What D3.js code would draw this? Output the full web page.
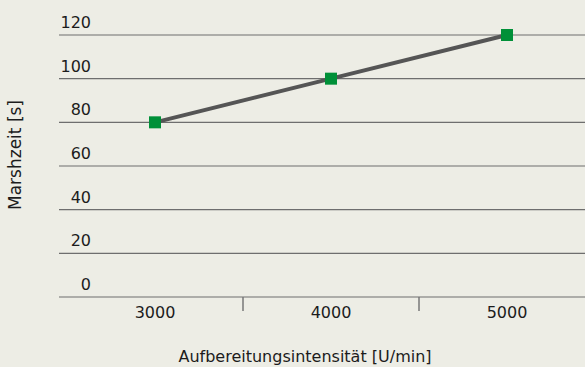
<!DOCTYPE html>
<html>
<head>
<meta charset="utf-8">
<script src="https://cdn.jsdelivr.net/npm/d3@7/dist/d3.min.js"></script>
<style>
  html, body { margin: 0; padding: 0; background: #ededE5; }
  svg { display: block; font-family: "DejaVu Sans", sans-serif; }
</style>
</head>
<body>
<svg id="chart" width="585" height="367"></svg>
<script>
// Processing intensity (rpm) and resulting marsh time (s)
const categories = ["3000", "4000", "5000"];
const marshTime = [80, 100, 120];
const yTicks = [0, 20, 40, 60, 80, 100, 120];
const xTitle = "Aufbereitungsintensität [U/min]";
const yTitle = "Marshzeit [s]";

const svg = d3.select("#chart");
const W = 585, H = 367;

svg.append("rect").attr("width", W).attr("height", H).attr("fill", "#ededE5");

const x = d3.scaleBand().domain(categories).range([67, 595]).paddingInner(0).paddingOuter(0);
const y = d3.scaleLinear().domain([0, 120]).range([297, 35]);

// Horizontal gridlines with labels sitting above them
const grid = svg.append("g");
grid.selectAll("line").data(yTicks).join("line")
  .attr("x1", 59).attr("x2", W)
  .attr("y1", d => y(d)).attr("y2", d => y(d))
  .attr("stroke", "#6e6e6e").attr("stroke-width", 1.2);

grid.selectAll("text").data(yTicks).join("text")
  .attr("x", 91).attr("y", d => y(d) - 7)
  .attr("text-anchor", "end")
  .attr("font-size", 16).attr("fill", "#1c1c1c")
  .text(d => d);

// Category axis: labels under band centres, ticks between bands
const xAxis = d3.axisBottom(x).tickSize(0).tickPadding(0);
const gx = svg.append("g").attr("transform", `translate(0,${y(0)})`).call(xAxis);
gx.select(".domain").remove();
gx.selectAll("text")
  .attr("y", 21).attr("dy", 0)
  .attr("font-size", 16).attr("fill", "#1c1c1c")
  .attr("font-family", "DejaVu Sans, sans-serif");

const boundaries = categories.slice(1).map(c => x(c));
svg.append("g").selectAll("line").data(boundaries).join("line")
  .attr("x1", d => d).attr("x2", d => d)
  .attr("y1", y(0)).attr("y2", y(0) + 14)
  .attr("stroke", "#777").attr("stroke-width", 1.5);

// Series line and square markers
const pts = categories.map((c, i) => [x(c) + x.bandwidth() / 2, y(marshTime[i])]);
svg.append("path")
  .attr("d", d3.line()(pts))
  .attr("fill", "none").attr("stroke", "#555").attr("stroke-width", 4);

const s = 12;
svg.append("g").selectAll("rect").data(pts).join("rect")
  .attr("x", d => d[0] - s / 2).attr("y", d => d[1] - s / 2)
  .attr("width", s).attr("height", s)
  .attr("fill", "#009038");

// Axis titles
svg.append("text")
  .attr("x", 305).attr("y", 362)
  .attr("text-anchor", "middle")
  .attr("font-size", 16).attr("fill", "#1c1c1c")
  .text(xTitle);

svg.append("text")
  .attr("transform", "translate(21,155) rotate(-90)")
  .attr("text-anchor", "middle")
  .attr("font-size", 17).attr("fill", "#1c1c1c")
  .text(yTitle);
</script>
</body>
</html>
